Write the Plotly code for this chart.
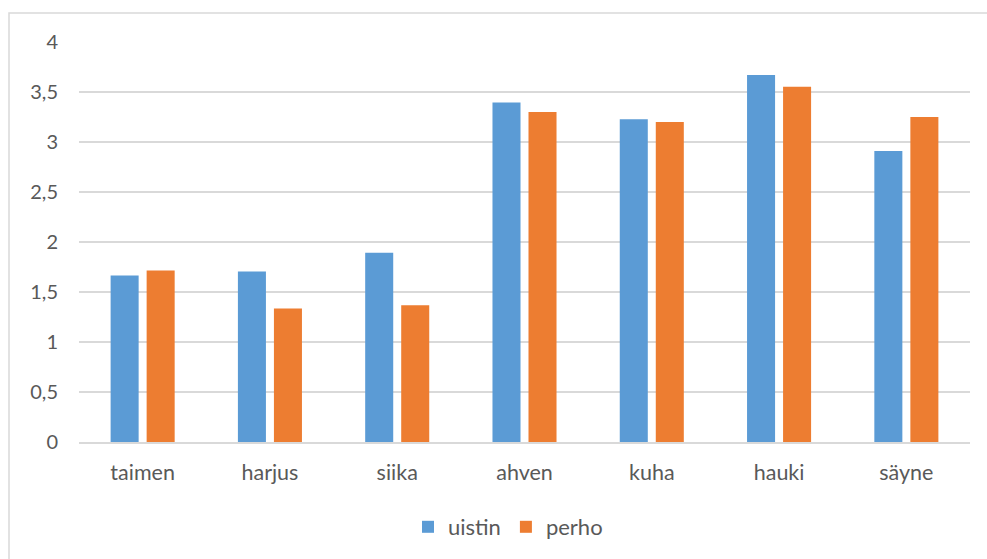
import plotly.graph_objects as go

# Kalalajit ja keskiarvot vieheittäin
species = ["taimen", "harjus", "siika", "ahven", "kuha", "hauki", "säyne"]
uistin = [1.666, 1.706, 1.892, 3.396, 3.227, 3.671, 2.911]
perho = [1.716, 1.334, 1.367, 3.300, 3.200, 3.552, 3.250]
y_ticks = [0, 0.5, 1, 1.5, 2, 2.5, 3, 3.5, 4]
y_tick_text = ["0", "0,5", "1", "1,5", "2", "2,5", "3", "3,5", "4"]

BLUE = "#5B9BD5"
ORANGE = "#ED7D31"
TEXT = "#595959"
GRID = "#D9D9D9"
FONT = "Lato, 'Open Sans', sans-serif"

W, H = 987, 559
L, R, T, B = 79, 17, 42, 116
pw, ph = W - L - R, H - T - B


def px_x(p):
    return (p - L) / pw


def px_y(p):
    return (H - B - p) / ph


fig = go.Figure()
fig.add_trace(go.Bar(name="uistin", x=species, y=uistin, marker_color=BLUE,
                     marker_line_width=0))
fig.add_trace(go.Bar(name="perho", x=species, y=perho, marker_color=ORANGE,
                     marker_line_width=0))

fig.update_layout(
    width=W, height=H,
    margin=dict(l=L, r=R, t=T, b=B),
    paper_bgcolor="white", plot_bgcolor="white",
    barmode="group", bargap=0.434, bargroupgap=0.222,
    font=dict(family=FONT, size=20, color=TEXT),
    showlegend=True,
    legend=dict(orientation="h", x=px_x(508), xanchor="center",
                y=px_y(527), yanchor="middle",
                font=dict(family=FONT, size=22, color=TEXT),
                itemwidth=30, tracegroupgap=0, bgcolor="rgba(0,0,0,0)"),
    xaxis=dict(showgrid=False, showline=True, linecolor=GRID, linewidth=1.5,
               ticks="", ticklabelstandoff=10,
               tickfont=dict(family=FONT, size=21.5, color=TEXT)),
    yaxis=dict(range=[0, 4], tickvals=y_ticks, ticktext=y_tick_text,
               showgrid=True, gridcolor=GRID, gridwidth=1.5,
               zeroline=False, showline=False, ticks="",
               ticklabelstandoff=20,
               tickfont=dict(family=FONT, size=20, color=TEXT)),
    shapes=[dict(type="rect", xref="paper", yref="paper",
                 x0=px_x(9), x1=px_x(1020), y0=px_y(590), y1=px_y(13),
                 line=dict(color=GRID, width=1.5), fillcolor="rgba(0,0,0,0)",
                 layer="below")],
)

fig.write_html("out.html")
